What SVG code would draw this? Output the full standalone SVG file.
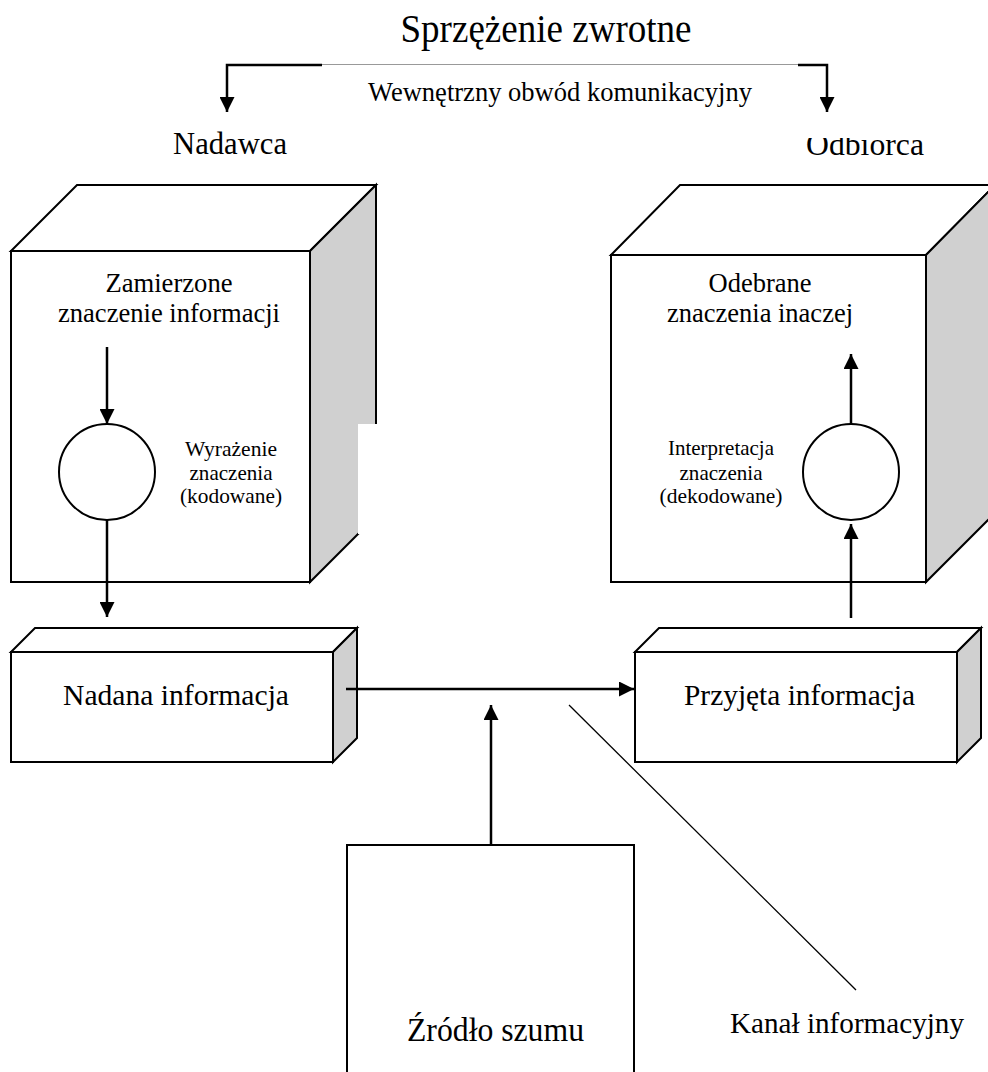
<svg xmlns="http://www.w3.org/2000/svg" width="988" height="1072" viewBox="0 0 988 1072">
<style>
text{font-family:"Liberation Serif","Times New Roman",serif;fill:#000}
.t{text-anchor:middle}
.face{fill:#fff;stroke:#000;stroke-width:2;stroke-linejoin:miter}
.side{fill:#d0d0d0;stroke:#000;stroke-width:2}
.ln{stroke:#000;stroke-width:2.5;fill:none}
.thin{stroke:#000;stroke-width:1.3;fill:none}
</style>
<defs>
<marker id="ah" viewBox="0 0 10 10" refX="10" refY="5" markerWidth="15" markerHeight="15" markerUnits="userSpaceOnUse" orient="auto">
<path d="M0,0 L10,5 L0,10 z" fill="#000"/>
</marker>
<clipPath id="clipOdb"><rect x="700" y="138" width="288" height="40"/></clipPath>
</defs>
<rect width="988" height="1072" fill="#fff"/>

<g id="title">
<text x="546" y="42" font-size="40" class="t" textLength="291" lengthAdjust="spacingAndGlyphs">Sprzężenie zwrotne</text>
</g>

<g id="feedback">
<text x="368" y="101" font-size="27" textLength="384" lengthAdjust="spacingAndGlyphs">Wewnętrzny obwód komunikacyjny</text>
</g>

<g id="nadawca">
<text x="173" y="154" font-size="31" textLength="114" lengthAdjust="spacingAndGlyphs">Nadawca</text>
</g>
<g id="odbiorca">
<text x="806" y="155" font-size="31" textLength="118" lengthAdjust="spacingAndGlyphs" clip-path="url(#clipOdb)">Odbiorca</text>
</g>

<g id="sender-cube">
<polygon class="face" points="11,251 77,185 376,185 310,251"/>
<polygon class="side" points="310,251 376,185 376,516 310,582"/>
<rect class="face" x="11" y="251" width="299" height="331"/>
<rect x="358" y="424" width="20" height="110" fill="#fff"/>
<text x="169" y="292" font-size="27" class="t" textLength="127" lengthAdjust="spacingAndGlyphs">Zamierzone</text>
<text x="169" y="322" font-size="27" class="t" textLength="222" lengthAdjust="spacingAndGlyphs">znaczenie informacji</text>
</g>
<g id="encode">
<circle class="face" cx="107" cy="472" r="48"/>
<text x="231" y="456" font-size="21" class="t" textLength="92" lengthAdjust="spacingAndGlyphs">Wyrażenie</text>
<text x="231" y="480" font-size="21" class="t" textLength="83" lengthAdjust="spacingAndGlyphs">znaczenia</text>
<text x="231" y="503" font-size="21" class="t" textLength="102" lengthAdjust="spacingAndGlyphs">(kodowane)</text>
</g>

<g id="receiver-cube">
<polygon class="face" points="611,255 680,185 995,185 926,255"/>
<polygon class="side" points="926,255 995,185 995,513 926,582"/>
<rect class="face" x="611" y="255" width="315" height="327"/>
<text x="760" y="292" font-size="27" class="t" textLength="103" lengthAdjust="spacingAndGlyphs">Odebrane</text>
<text x="760" y="322" font-size="27" class="t" textLength="186" lengthAdjust="spacingAndGlyphs">znaczenia inaczej</text>
</g>
<g id="decode">
<circle class="face" cx="851" cy="472" r="48"/>
<text x="721" y="455" font-size="21" class="t" textLength="106" lengthAdjust="spacingAndGlyphs">Interpretacja</text>
<text x="721" y="480" font-size="21" class="t" textLength="83" lengthAdjust="spacingAndGlyphs">znaczenia</text>
<text x="721" y="503" font-size="21" class="t" textLength="123" lengthAdjust="spacingAndGlyphs">(dekodowane)</text>
</g>

<g id="sent">
<polygon class="face" points="11,652 35,628 357,628 333,652"/>
<polygon class="side" points="333,652 357,628 357,738 333,762"/>
<rect class="face" x="11" y="652" width="322" height="110"/>
<text x="63" y="705" font-size="30" textLength="226" lengthAdjust="spacingAndGlyphs">Nadana informacja</text>
</g>

<g id="received">
<polygon class="face" points="635,652 659,628 981,628 957,652"/>
<polygon class="side" points="957,652 981,628 981,738 957,762"/>
<rect class="face" x="635" y="652" width="322" height="110"/>
<text x="684" y="705" font-size="30" textLength="231" lengthAdjust="spacingAndGlyphs">Przyjęta informacja</text>
</g>

<g id="noise">
<rect class="face" x="347" y="845" width="287" height="240"/>
<text x="407" y="1041" font-size="33" textLength="177" lengthAdjust="spacingAndGlyphs">Źródło szumu</text>
</g>

<g id="channel-label">
<text x="730" y="1033" font-size="30" textLength="234" lengthAdjust="spacingAndGlyphs">Kanał informacyjny</text>
</g>

<g id="connectors">
<path class="ln" d="M322,65 H227 V112" marker-end="url(#ah)"/>
<line x1="322" y1="64.5" x2="798" y2="64.5" stroke="#999" stroke-width="1"/>
<path class="ln" d="M798,65 H827 V112" marker-end="url(#ah)"/>
<line class="ln" x1="107" y1="347" x2="107" y2="424" marker-end="url(#ah)"/>
<line class="ln" x1="107" y1="520" x2="107" y2="617" marker-end="url(#ah)"/>
<line class="ln" x1="851" y1="618" x2="851" y2="524" marker-end="url(#ah)"/>
<line class="ln" x1="851" y1="424" x2="851" y2="354" marker-end="url(#ah)"/>
<line class="ln" x1="346" y1="689" x2="634" y2="689" marker-end="url(#ah)"/>
<line class="ln" x1="491" y1="845" x2="491" y2="705" marker-end="url(#ah)"/>
<line class="thin" x1="569" y1="705" x2="856" y2="990"/>
</g>
</svg>
